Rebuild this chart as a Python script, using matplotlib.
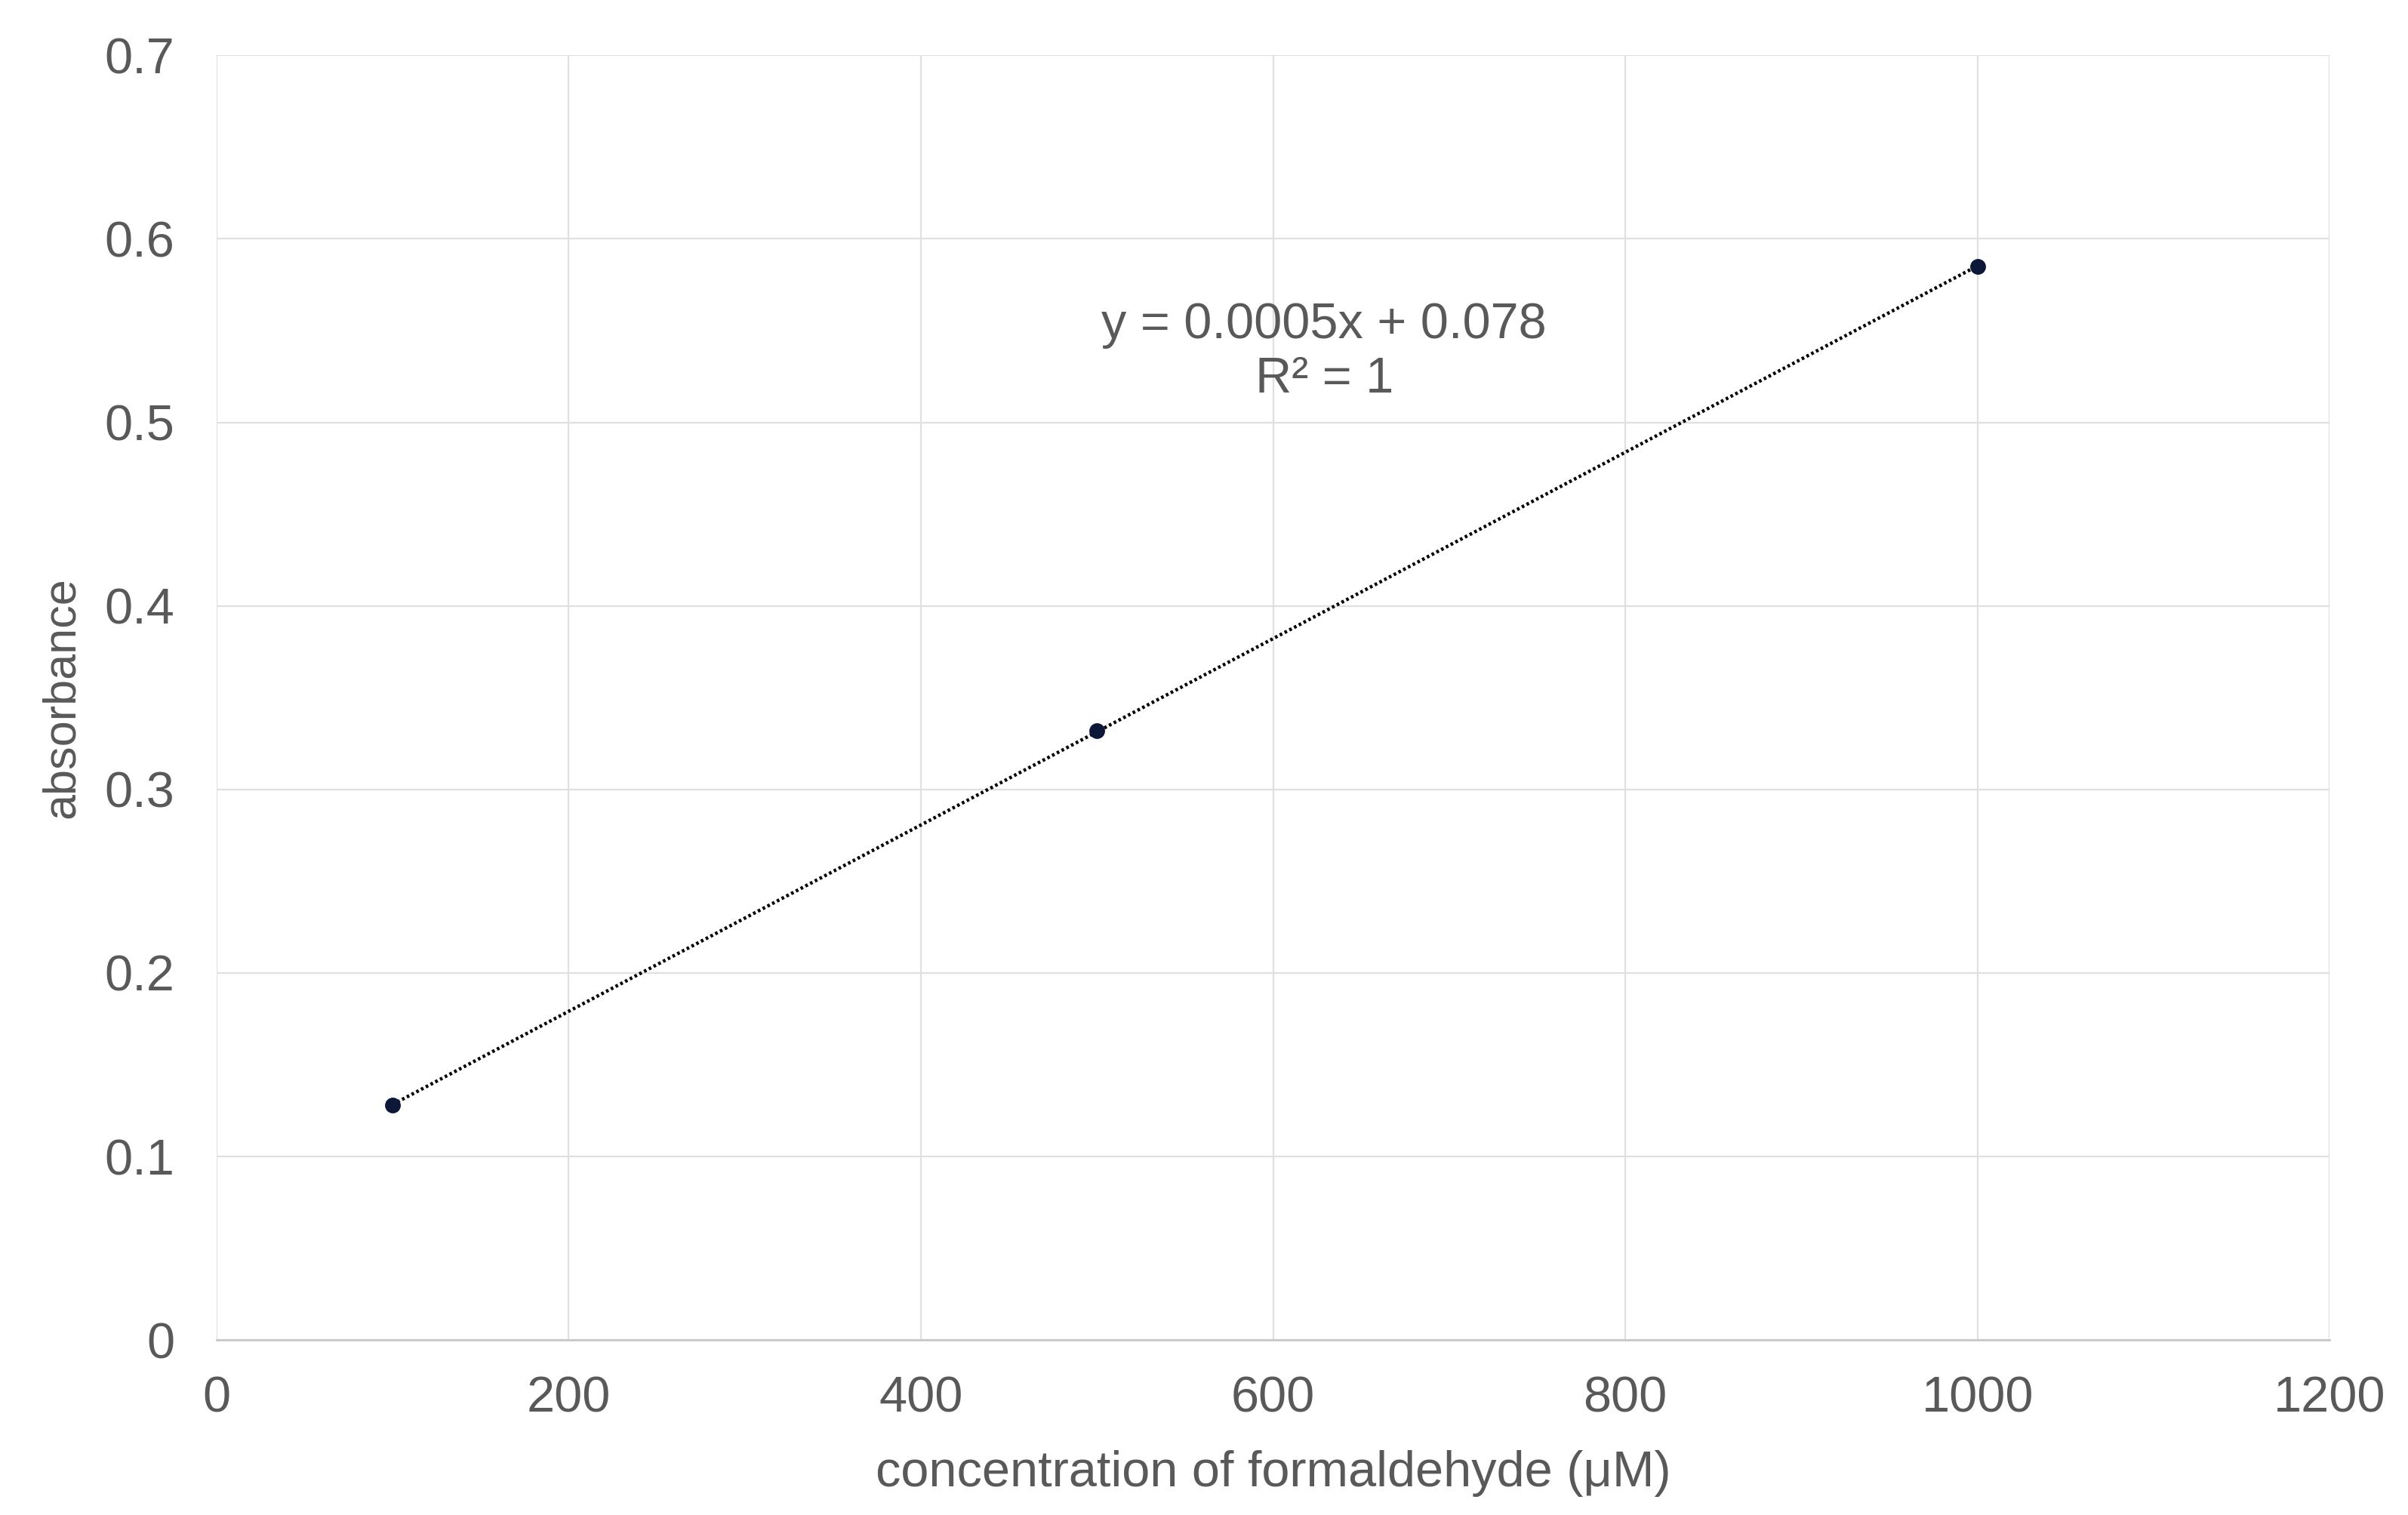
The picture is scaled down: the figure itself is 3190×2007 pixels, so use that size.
import matplotlib.pyplot as plt
import numpy as np

plt.rcParams['font.family'] = ['Liberation Sans', 'DejaVu Sans']

# Données
concentration = [100, 500, 1000]
absorbance = [0.128, 0.332, 0.585]
x_ticks = [0, 200, 400, 600, 800, 1000, 1200]
y_ticks = [0, 0.1, 0.2, 0.3, 0.4, 0.5, 0.6, 0.7]
equation = "y = 0.0005x + 0.078\nR² = 1"

fig = plt.figure(figsize=(15.95, 10.035), dpi=200)
ax = fig.add_axes([0.0899, 0.1155, 0.8776, 0.848])

# Courbe de tendance linéaire
coef = np.polyfit(concentration, absorbance, 1)
x_fit = np.array([concentration[0], concentration[-1]])
ax.plot(x_fit, np.polyval(coef, x_fit), linestyle=(0, (0.8, 0.8)), color='black', linewidth=1.6, zorder=2)

ax.plot(concentration, absorbance, 'o', color='#0d1838', markersize=6.5, zorder=3)

ax.text(629, 0.538, equation, ha='center', va='center', fontsize=24, color='#595959', linespacing=1.2)

ax.set_xlim(0, 1200)
ax.set_ylim(0, 0.7)
ax.set_xticks(x_ticks)
ax.set_yticks(y_ticks)
ax.set_xticklabels([str(t) for t in x_ticks])
ax.set_yticklabels(['0'] + [f'{t:.1f}' for t in y_ticks[1:]])
ax.tick_params(length=0, labelsize=24, labelcolor='#595959')
ax.tick_params(axis='x', pad=17)
ax.tick_params(axis='y', pad=20)

ax.grid(True, color='#e0e0e0', linewidth=0.8)
ax.set_axisbelow(True)
for side in ['top', 'right', 'left']:
    ax.spines[side].set_visible(False)
ax.spines['bottom'].set_color('#c8c8c8')
ax.spines['bottom'].set_linewidth(1.0)

ax.set_xlabel('concentration of formaldehyde (μM)', fontsize=24, color='#595959', labelpad=13)
ax.set_ylabel('absorbance', fontsize=22, color='#595959', labelpad=10)

fig.savefig('out.png')
